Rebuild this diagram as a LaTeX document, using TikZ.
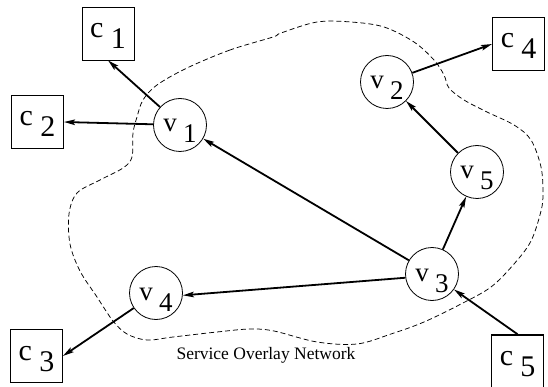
\documentclass[tikz,border=0pt]{standalone}
\usepackage{fontspec}
\setmainfont{Liberation Serif}
\usetikzlibrary{arrows.meta}
\newcommand\sublab[2]{#1\hspace{0.24em}\raisebox{-11pt}{#2}}
\begin{document}
\begin{tikzpicture}[x=1pt,y=-1pt,
  client/.style={draw, line width=0.8pt, minimum width=52pt, minimum height=53pt,
                 inner sep=0pt, text height=20pt, text depth=12pt,
                 font=\fontsize{30}{30}\selectfont},
  peer/.style={draw, circle, line width=0.8pt, minimum size=53pt, inner sep=0pt,
               text height=22pt, text depth=8pt,
               font=\fontsize{27}{27}\selectfont},
  link/.style={line width=1.8pt, -{Stealth[length=11pt,width=5.5pt,inset=2pt]}},
  region/.style={line width=0.75pt, dash pattern=on 5pt off 3pt}
]
\useasboundingbox (0,0) rectangle (548,387);

% overlay boundary
\draw[region] plot[smooth cycle, tension=0.55] coordinates {
  (273,37) (230,50) (187,68) (157,85) (143,100) (137,117) (133,133) (132,157)
  (123,168) (100,180) (77,193) (69,214) (70,244) (80,271) (97,297) (113,321)
  (127,334) (147,340) (173,337) (217,332) (250,329) (274,331) (317,342)
  (357,344) (391,334) (424,322) (461,304) (491,287) (514,264) (531,241)
  (541,211) (543,193) (541,167) (531,140) (514,125) (487,112) (464,100)
  (449,88) (444,75) (434,60) (414,42) (384,27) (351,22) (317,22) (281,33)};

\node[font=\fontsize{17.5}{17.5}\selectfont, anchor=base west] (lbl) at (173,359) {Service Overlay Network};

% overlay nodes
\node[peer] (v1) at (180,125) {\sublab{v}{1}};
\node[peer] (v2) at (387,82) {\sublab{v}{2}};
\node[peer] (v3) at (432,274) {\sublab{v}{3}};
\node[peer] (v4) at (156,293) {\sublab{v}{4}};
\node[peer] (v5) at (477,172) {\sublab{v}{5}};

% clients
\node[client] (c1) at (108,33.5) {\sublab{c}{1}};
\node[client] (c2) at (37.5,122) {\sublab{c}{2}};
\node[client] (c3) at (36.5,356) {\sublab{c}{3}};
\node[client] (c4) at (518.5,44) {\sublab{c}{4}};
\node[client, line width=1.6pt] (c5) at (517.5,361.5) {\sublab{c}{5}};

% data paths
\draw[link] (c5.north) -- (v3);
\draw[link] (v3) -- (v1);
\draw[link] (v3.188) -- (v4.-5);
\draw[link] (v3) -- (v5);
\draw[link] (v5) -- (v2);
\draw[link] (v2) -- (c4.west);
\draw[link] (v1) -- (c1.south);
\draw[link] (v1) -- (c2.east);
\draw[link] (v4) -- (c3.east);
\end{tikzpicture}
\end{document}
